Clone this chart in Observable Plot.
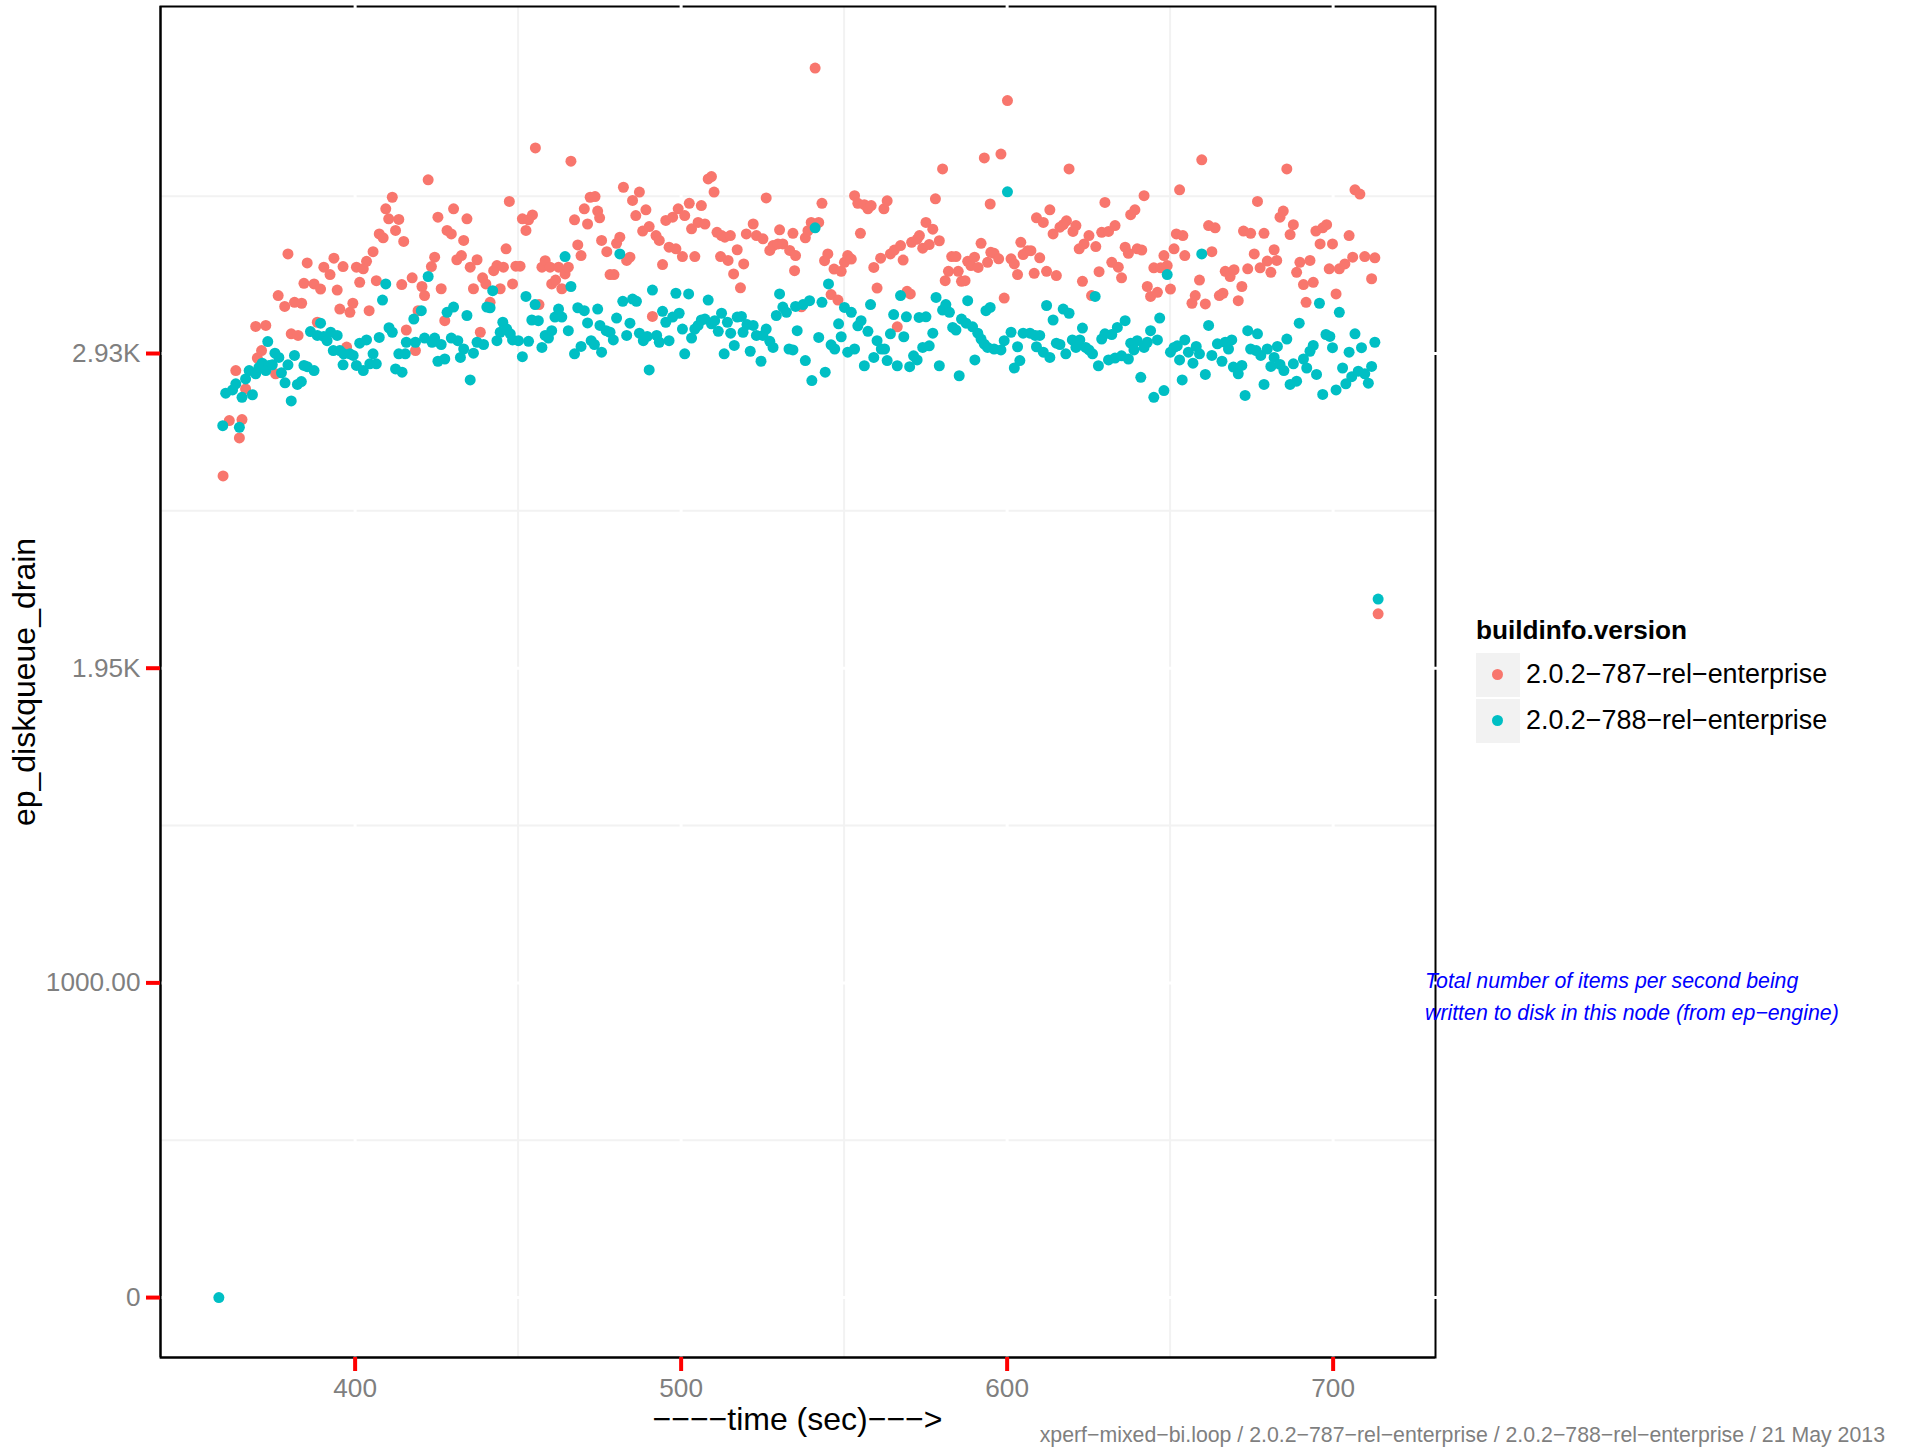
<!DOCTYPE html>
<html><head><meta charset="utf-8">
<script src="https://cdn.jsdelivr.net/npm/d3@7"></script>
<script src="https://cdn.jsdelivr.net/npm/@observablehq/plot@0.6"></script>
<style>
html,body{margin:0;padding:0;background:#fff;}
#wrap{position:relative;width:1910px;height:1449px;font-family:"Liberation Sans",Arial,Helvetica,sans-serif;overflow:hidden;}
#wrap svg{display:block;}
.abs{position:absolute;white-space:nowrap;line-height:1;}
</style></head>
<body><div id="wrap"></div>
<script>
// ---- data ----
const series = ["2.0.2\u2212787\u2212rel\u2212enterprise", "2.0.2\u2212788\u2212rel\u2212enterprise"];
const colors = ["#F8766D", "#00BFC4"];

const t787 = [359.5,361.4,363.4,364.5,365.3,366.4,369.5,370.0,371.3,372.6,375.6,376.4,378.4,379.4,380.4,381.4,382.5,383.6,384.3,385.3,387.4,388.4,389.4,390.4,392.3,393.5,394.5,395.3,396.3,397.4,398.4,399.3,400.4,401.4,402.5,403.5,404.3,405.5,406.5,407.4,408.6,409.4,410.3,411.4,412.4,413.4,414.3,414.9,415.7,
417.5,418.5,419.3,420.5,421.3,422.4,423.4,424.4,425.4,426.4,427.5,428.2,429.5,430.2,431.2,432.6,433.3,434.3,435.3,436.3,437.4,438.4,439.1,440.1,441.4,442.5,443.5,444.5,445.5,446.3,447.3,448.3,449.3,450.6,451.3,452.4,453.2,454.4,455.3,456.4,457.3,458.3,459.8,460.3,461.5,462.4,463.4,464.4,465.4,466.2,467.3,468.3,469.3,470.3,471.3,472.1,473.6,474.4,475.0,475.6,
477.2,478.2,479.4,480.2,481.2,482.3,483.3,484.3,485.1,486.1,487.2,488.2,489.2,490.2,491.2,492.3,493.3,494.3,495.3,496.3,497.4,498.4,499.1,500.4,501.1,502.5,503.2,504.2,505.2,506.2,507.3,508.3,509.3,510.1,511.0,512.1,512.4,513.4,514.4,515.1,516.1,517.2,518.2,519.2,520.0,522.1,523.1,525.1,526.1,527.2,528.2,529.7,530.2,531.2,533.3,534.3,534.8,535.1,
536.9,538.1,538.9,539.9,541.1,542.2,543.2,544.0,545.0,546.0,546.9,548.1,549.1,550.1,551.1,552.2,553.2,554.2,555.0,556.2,557.3,558.3,559.1,560.1,561.2,562.2,563.2,564.2,565.4,566.3,567.3,568.1,569.3,570.3,570.7,572.4,573.1,574.1,575.1,576.1,577.2,578.0,579.2,580.2,581.0,582.0,583.0,584.3,585.0,586.0,587.1,587.9,588.9,590.0,591.1,592.0,593.0,594.0,594.8,595.0,
596.0,597.4,598.1,599.1,600.1,601.2,602.2,603.2,604.2,604.9,606.3,607.3,608.3,609.0,610.0,611.1,612.1,613.1,614.1,615.1,616.2,617.2,618.2,619.0,620.2,621.1,622.1,623.1,623.6,625.1,625.9,627.2,628.2,629.0,630.0,631.1,632.1,633.1,634.1,635.1,636.2,637.2,637.9,639.2,639.9,641.3,642.0,643.0,644.0,645.0,646.1,647.1,648.1,649.1,650.1,651.2,651.9,652.9,653.9,654.5,
656.7,657.7,659.0,659.7,660.8,661.8,662.8,663.8,665.1,666.2,666.9,668.4,669.6,670.9,672.0,672.5,673.8,674.7,675.8,676.8,677.6,678.8,679.8,680.9,681.9,682.7,683.7,684.7,685.8,686.8,687.8,688.8,689.8,690.9,691.7,692.9,693.9,694.7,696.0,696.8,698.0,698.8,699.8,700.9,701.9,703.6,704.9,706.0,706.7,708.2,709.7,711.8,712.8,713.8];
const v787 = [2550,2722,2877,2668,2725,2820,3014,2916,2939,3017,2867,3110,3076,3239,2991,3089,2986,3086,3148,3211,3146,3027,3130,3198,3175,3226,3127,3068,3200,2950,3058,3086,3198,3151,3193,3216,3063,3246,3156,3301,3289,3379,3348,3415,3312,3346,3144,3278,3003,
3165,2939,3063,3138,3110,3469,3200,3229,3353,3131,3032,3312,3301,3379,3221,3234,3281,3348,3198,3131,3221,2996,3165,3146,3089,3187,3203,3131,3198,3255,3402,3146,3201,3201,3348,3312,3345,3360,3568,3082,3198,3218,3198,3146,3158,3198,3131,3177,3198,3527,3345,3267,3234,3379,3332,3415,3417,3372,3351,3281,
3246,3175,3175,3272,3291,3446,3219,3229,3405,3358,3431,3310,3376,3324,3045,3296,3281,3206,3343,3260,3353,3255,3379,3231,3358,3396,3317,3231,3337,3389,3332,3472,3479,3431,3306,3231,3296,3291,3219,3296,3177,3252,3134,3208,3301,3332,3296,3286,3413,3250,3265,3270,3314,3270,3250,3303,3187,3234,
3075,3289,3311,3337,3816,3337,3396,3218,3239,3113,3192,3096,3185,3213,3234,3223,3420,3396,3303,3392,3379,3389,3197,3133,3226,3379,3404,3239,3251,3013,3265,3220,3123,3115,3275,3285,3296,3257,3337,3268,3316,3410,3280,3503,3156,3185,3231,3231,3185,3154,3156,3216,3203,3229,3197,3272,3537,3213,3394,3244,
3241,3224,3549,3102,3715,3224,3208,3175,3275,3237,3249,3249,3179,3351,3227,3337,3185,3376,3301,3172,3322,3330,3342,3503,3309,3327,3255,3154,3270,3296,3110,3262,3184,3306,3399,3309,3213,3327,3198,3165,3260,3241,3361,3376,3255,3251,3420,3138,3107,3196,3120,3196,3234,3203,3130,3255,3301,3438,3296,3234,
3086,3110,3158,3531,3084,3327,3246,3320,3110,3117,3185,3169,3190,3094,3138,3310,3193,3303,3239,3402,3196,3303,3217,3182,3252,3219,3353,3372,3503,3299,3330,3182,3213,3144,3089,3219,3151,3310,3270,3320,3330,3193,3270,3115,3193,3208,3296,3229,3438,3425,3231,3162,3227,2122];

const t788 = [358.2,359.4,360.3,362.4,363.4,364.5,365.3,366.4,367.5,368.5,369.5,370.5,371.5,372.6,373.2,373.6,374.6,375.4,376.6,377.4,378.5,379.4,380.4,381.4,382.3,383.5,384.3,385.3,386.3,387.4,388.4,389.4,390.4,391.4,392.5,393.3,394.5,395.3,396.3,396.5,398.4,399.4,400.4,401.4,402.5,403.5,404.5,405.5,406.5,407.4,408.4,409.4,410.4,411.4,412.4,413.4,414.4,415.4,415.7,
418.0,418.5,420.3,421.3,422.4,423.6,424.4,425.4,426.4,427.5,428.2,429.5,430.2,431.5,432.3,433.3,434.3,435.3,436.3,437.4,439.4,440.4,441.4,442.2,443.5,444.5,445.3,446.5,447.6,448.3,450.1,451.3,452.4,453.2,454.2,455.2,456.2,457.3,458.3,459.3,460.3,461.3,462.4,463.4,464.4,465.4,466.2,467.3,468.3,469.3,470.3,471.3,472.4,473.4,474.4,475.1,475.6,
477.0,478.2,479.2,480.2,481.2,482.1,483.3,484.3,485.1,486.3,487.2,488.4,489.6,490.2,491.2,492.5,493.3,494.3,495.3,496.3,497.4,498.4,499.4,500.4,501.1,502.3,503.2,504.2,505.2,506.2,507.3,508.3,509.3,510.3,511.4,512.4,513.2,514.2,515.2,516.3,517.2,518.5,519.0,520.2,521.2,522.1,523.1,524.5,525.1,526.1,527.2,528.2,529.2,530.2,531.2,532.3,533.1,534.3,535.1,535.6,
537.4,538.1,539.4,540.1,541.1,542.2,543.2,544.2,545.2,546.0,547.1,548.3,549.1,550.1,551.1,552.2,553.2,554.2,555.2,556.2,557.3,558.1,559.1,560.1,561.4,562.4,563.2,564.2,565.2,566.3,567.3,568.3,569.1,570.1,571.3,572.4,573.0,574.1,575.1,576.1,577.2,578.2,579.2,580.2,581.2,582.3,583.3,584.3,585.3,586.0,587.4,587.9,589.4,590.1,591.0,592.0,593.0,593.5,594.0,594.8,
596.0,598.1,599.1,600.1,601.2,602.2,603.2,603.9,604.9,607.0,608.6,609.0,610.0,611.1,612.1,613.1,614.1,615.1,616.2,617.2,618.0,619.0,620.0,621.1,622.3,623.1,624.1,625.1,626.2,627.0,628.0,629.0,630.0,631.1,632.1,633.1,633.8,635.1,636.2,637.2,637.9,638.9,639.9,641.0,642.0,643.0,644.0,645.0,646.1,646.8,648.1,649.1,650.1,651.2,652.2,652.9,653.7,654.5,
655.6,657.0,658.0,659.0,659.7,660.8,661.8,662.8,664.5,665.9,666.9,667.9,668.9,669.4,670.9,672.0,673.0,673.8,674.7,676.4,676.8,677.8,678.8,679.8,680.9,681.9,682.9,683.7,684.9,685.8,686.8,687.8,688.8,689.6,690.9,691.9,692.9,693.9,694.9,695.8,696.8,697.8,699.0,699.8,700.9,701.9,702.9,703.9,704.9,705.7,706.7,707.7,708.7,709.7,710.8,711.8,712.8,713.8];
const v788 = [0,2706,2807,2817,2836,2701,2794,2851,2877,2802,2867,2887,2900,2877,2967,2893,2895,2931,2918,2870,2839,2895,2783,2924,2834,2843,2893,2889,2998,2877,2986,3024,2983,2970,2996,2939,2986,2939,2895,2929,2929,2924,2893,2962,2877,2972,2898,2929,2898,2980,3096,3146,3010,2996,2882,2929,2872,2929,2965,
3037,2965,3063,2978,3169,2965,2978,2906,2958,2913,3058,2978,3074,2970,2918,2944,3048,2848,2931,2965,2958,3074,3072,3125,2970,2996,3027,3006,2991,2972,2970,2920,3107,2968,3034,3082,3032,2949,2986,2978,3001,3043,3068,3043,3231,3001,3138,2929,3072,2952,3063,3025,2970,2958,3068,3017,2934,
3001,2996,2972,3040,3239,3092,2986,3024,3099,3092,2993,2970,2983,2879,3127,2986,2965,3061,3027,2970,3043,3117,3055,3006,2929,3115,2978,3006,3017,3034,3037,3096,3022,3032,2999,3055,2929,3027,2993,2955,3043,3045,2996,3020,2937,3017,2986,2906,2986,3006,2968,2949,3048,3115,3074,3058,2944,2941,3076,3001,
3082,2908,3094,2846,3320,2980,3089,2872,3146,2957,2944,3022,2982,3073,2934,3058,2944,3016,3032,2892,2999,3082,2918,2970,2944,2944,2908,2991,3051,2892,3110,2982,3044,2889,2923,2910,3042,2949,3044,2954,2993,3104,2892,3065,3082,3058,3011,3003,2861,3037,3024,3094,3013,2910,2993,2975,2959,3063,2949,3073,
2944,2941,2970,3432,2996,2885,2951,2908,2993,2993,2986,2951,2986,2934,3079,2918,3034,2962,2958,3068,2929,3055,2972,2949,2972,3009,2949,2941,2929,3107,2892,2975,2991,2910,2989,2916,3011,2923,3032,2913,2962,2941,2970,2856,2949,2965,3001,2794,2972,3040,2815,3175,2934,2949,2954,2910,2848,2972,
2934,2900,2952,2929,3239,2865,3017,2924,2960,2906,2965,2944,2972,2888,2867,2893,2800,3001,2944,2939,2991,2924,2834,2944,2890,2918,2952,2896,2877,2975,2834,2898,2844,3024,2913,2885,2937,2955,2865,3086,2803,2989,2983,2948,2817,3058,2885,2836,2934,2858,2991,2875,2948,2867,2838,2890,2965,2168];

const xTicks = [400, 500, 600, 700];
const xMinor = [450, 550, 650];
const yTicks = [0, 976.67, 1953.33, 2930];
const yTickLabels = ["0", "1000.00", "1.95K", "2.93K"];
const yMinor = [488.33, 1465, 2441.67, 3418.33];

const xTitle = "\u2212\u2212\u2212\u2212time (sec)\u2212\u2212\u2212>";
const yTitle = "ep_diskqueue_drain";
const legendTitle = "buildinfo.version";
const noteLines = ["Total number of items per second being", "written to disk in this node (from ep\u2212engine)"];
const caption = "xperf\u2212mixed\u2212bi.loop / 2.0.2\u2212787\u2212rel\u2212enterprise / 2.0.2\u2212788\u2212rel\u2212enterprise / 21 May 2013";

// ---- build table ----
const pts = [];
t787.forEach((t, i) => pts.push({t, v: v787[i], s: series[0]}));
t788.forEach((t, i) => pts.push({t, v: v788[i], s: series[1]}));
const yLab = new Map(yTicks.map((d, i) => [d, yTickLabels[i]]));

const X0 = 340.3, X1 = 731.4, Y0 = -186, Y1 = 4007;
const tickRed = "#FF0000", grayTxt = "#7F7F7F";

const chart = Plot.plot({
  width: 1910, height: 1449,
  marginLeft: 160, marginRight: 475, marginTop: 6, marginBottom: 92,
  style: {fontFamily: "'Liberation Sans', Arial, Helvetica, sans-serif", background: "white", overflow: "visible"},
  x: {domain: [X0, X1]},
  y: {domain: [Y0, Y1]},
  color: {domain: series, range: colors},
  marks: [
    Plot.ruleY(yMinor, {stroke: "#F2F2F2", strokeWidth: 2}),
    Plot.ruleX(xMinor, {stroke: "#F2F2F2", strokeWidth: 2}),
    Plot.frame({stroke: "black", strokeWidth: 2}),
    Plot.ruleX(xTicks, {stroke: "white", strokeWidth: 3, insetTop: -2}),
    Plot.ruleY(yTicks, {stroke: "white", strokeWidth: 3, insetRight: -2}),
    Plot.ruleX([X0], {stroke: "black", strokeWidth: 2}),
    Plot.ruleY([Y0], {stroke: "black", strokeWidth: 2}),
    Plot.dot(pts.filter(d => d.s === series[0]), {x: "t", y: "v", r: 5.5, fill: "s"}),
    Plot.dot(pts.filter(d => d.s === series[1]), {x: "t", y: "v", r: 5.5, fill: "s"}),
    Plot.axisY(yTicks, {tickSize: 14, tickPadding: 6, stroke: tickRed, strokeWidth: 4, fill: grayTxt,
      fontSize: 26.2, tickFormat: d => yLab.get(d), label: null}),
    Plot.axisX(xTicks, {tickSize: 14, tickPadding: 7, stroke: tickRed, strokeWidth: 4, fill: grayTxt,
      fontSize: 26.2, tickFormat: d => String(d), label: null})
  ]
});

const wrap = document.getElementById("wrap");
wrap.appendChild(chart);

// y title (rotated, inside svg)
d3.select(chart).append("text")
  .attr("transform", "translate(35,682) rotate(-90)")
  .attr("text-anchor", "middle")
  .attr("fill", "black")
  .style("font-size", "32px")
  .text(yTitle);

function addDiv(text, css) {
  const d = document.createElement("div");
  d.className = "abs";
  d.textContent = text;
  Object.assign(d.style, css);
  wrap.appendChild(d);
  return d;
}

// x title centered under panel
addDiv(xTitle, {left: "497.5px", width: "600px", textAlign: "center", top: "1403px", fontSize: "32px", color: "black"});

// legend
addDiv(legendTitle, {left: "1476px", top: "617px", fontSize: "26.2px", fontWeight: "bold", color: "black"});
series.forEach((s, i) => {
  const top = 653 + i * 46;
  const ns = "http://www.w3.org/2000/svg";
  const key = document.createElementNS(ns, "svg");
  key.setAttribute("width", 44); key.setAttribute("height", 44);
  key.style.position = "absolute"; key.style.left = "1476px"; key.style.top = top + "px";
  const rect = document.createElementNS(ns, "rect");
  rect.setAttribute("width", 44); rect.setAttribute("height", 44); rect.setAttribute("fill", "#F2F2F2");
  const c = document.createElementNS(ns, "circle");
  c.setAttribute("cx", 21.5); c.setAttribute("cy", 21.5); c.setAttribute("r", 5.5); c.setAttribute("fill", colors[i]);
  key.appendChild(rect); key.appendChild(c);
  wrap.appendChild(key);
  addDiv(s, {left: "1526px", top: (top + 8) + "px", fontSize: "26.9px", color: "black"});
});

// annotation
const note = addDiv("", {left: "1425px", top: "965px", fontSize: "21.3px", fontStyle: "italic", color: "#0000FF", lineHeight: "32px"});
note.innerHTML = noteLines.map(l => l.replace(/&/g, "&amp;").replace(/</g, "&lt;")).join("<br>");

// caption
addDiv(caption, {right: "25px", top: "1425px", fontSize: "21.3px", color: "#7F7F7F"});
</script></body></html>
